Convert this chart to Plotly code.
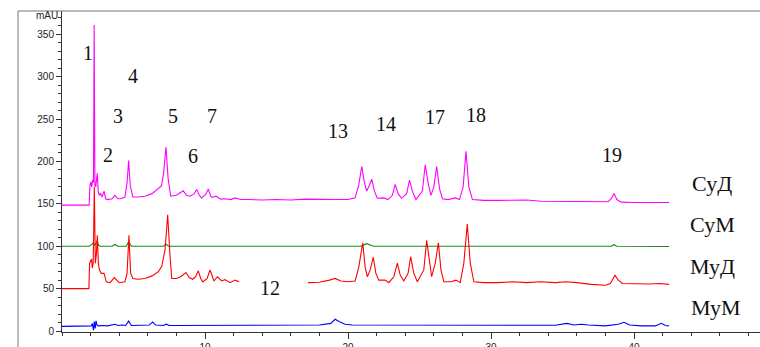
import plotly.graph_objects as go

# ---------------- data ----------------
# СуД (magenta)
sud_t = [0, 1.9, 1.96, 2.02, 2.08, 2.14, 2.2, 2.25, 2.3, 2.36, 2.42, 2.47, 2.53, 2.6, 2.7, 2.8, 2.94, 3.05,
         3.2, 3.5, 3.7, 3.9, 4.1, 4.4, 4.55, 4.66, 4.77, 4.95, 5.3, 5.8, 6.3, 6.7, 6.95, 7.1, 7.27, 7.42,
         7.6, 8.0, 8.3, 8.48, 8.7, 8.95, 9.25, 9.42, 9.6, 9.75, 10.05, 10.23, 10.4, 10.5, 10.77, 11.1, 11.4,
         11.8, 12.1, 12.5, 13, 14, 15, 16, 17, 18, 19, 20, 20.5, 20.75, 20.96, 21.15, 21.3, 21.45, 21.66,
         21.85, 22.05, 22.5, 22.8, 23.1, 23.3, 23.5, 23.75, 24.1, 24.3, 24.5, 24.75, 25.2, 25.4, 25.6, 25.8,
         26.0, 26.2, 26.4, 26.6, 27.0, 27.5, 27.8, 28.05, 28.25, 28.45, 28.7, 29.5, 30.5, 31.5, 32.5, 33.5,
         34.5, 35.5, 36.5, 37.5, 38.2, 38.45, 38.6, 38.8, 39.1, 40, 41, 42.45]
sud_v = [148.5, 148.5, 172, 176, 170, 178, 175, 361, 172, 170, 180, 186, 165, 160, 162, 158, 165, 156,
         155, 156, 160, 156, 156, 158, 175, 201, 172, 158, 158, 159, 162, 167, 171, 185, 217, 180,
         159, 160, 163, 165.5, 160, 159, 162, 167, 160, 157, 161, 167.5, 159, 157.5, 159, 155.5, 156,
         155, 157, 155, 155, 154.5, 155, 154.5, 155.5, 155, 155, 155, 157, 172, 194, 175, 165, 170, 179,
         165, 156.5, 157, 155, 160, 173, 162, 156.5, 162, 178, 165, 155, 165, 196, 175, 160,
         170, 194, 168, 156, 155, 157, 155, 170, 212, 170, 155, 154, 154, 154.5, 154.5, 153,
         153, 152.5, 152.5, 152.5, 152.5, 157, 162.3, 155, 152, 151.5, 151.5, 151.5]

# СуМ (green)
sum_t = [0, 1.9, 2.0, 2.1, 2.19, 2.3, 2.4, 2.47, 2.55, 2.7, 3.5, 3.7, 3.9, 4.5, 4.66, 4.85, 7.1, 7.27,
         7.45, 20.9, 21.3, 21.8, 38.4, 38.6, 38.8, 42.45]
sum_v = [100, 100, 101, 103, 104, 101, 104, 106.5, 101, 100, 100, 102, 100, 100, 105.5, 100, 100, 102.5,
         100, 100, 103, 100, 100, 101.8, 100, 99.7]

# МуД (red), first part
mud_t1 = [0, 1.88, 1.93, 2.0, 2.07, 2.12, 2.18, 2.26, 2.33, 2.4, 2.47, 2.54, 2.62, 2.75, 2.94, 3.1, 3.36,
          3.66, 4.0, 4.4, 4.55, 4.68, 4.8, 4.95, 5.33, 5.8, 6.3, 6.74, 6.97, 7.2, 7.39, 7.55, 7.67, 8.0,
          8.3, 8.67, 8.9, 9.14, 9.35, 9.53, 9.7, 9.84, 10.15, 10.35, 10.5, 10.63, 10.86, 11.17, 11.4,
          11.75, 12.1, 12.38]
mud_v1 = [50, 50, 80, 84, 85, 74, 80, 170, 80, 90, 113, 80, 72, 68, 68, 58, 57,
          63, 57, 58, 68, 113, 68, 62, 61, 62, 65, 70, 76, 95, 137, 90, 62, 62,
          64, 69, 63, 61, 64, 71, 62, 58, 62, 72, 64, 59, 64, 59, 60.6,
          57, 60, 58]
# МуД (red), second part
mud_t2 = [17.2, 18.0, 18.7, 19.1, 19.5, 20.0, 20.5, 20.75, 21.03, 21.2, 21.35, 21.55, 21.77, 21.95, 22.15,
          22.6, 22.85, 23.2, 23.45, 23.65, 23.9, 24.2, 24.38, 24.6, 24.85, 25.3, 25.5, 25.7, 25.85, 26.1,
          26.32, 26.5, 26.7, 27.2, 27.55, 27.85, 28.1, 28.34, 28.55, 28.8, 29.5, 30.5, 31.5, 32.5, 33.5,
          34.5, 35.2, 36, 37, 38, 38.35, 38.67, 38.9, 39.2, 40, 41, 41.8, 42.45]
mud_v2 = [57, 57.5, 60, 62, 59, 58, 59, 75, 104, 75, 64, 72, 87, 68, 60,
          60, 57, 64, 80, 66, 59, 68, 87.6, 68, 58, 72, 107, 80, 64, 80,
          104, 72, 58, 58, 60, 57, 80, 126, 80, 58, 57, 57, 58, 57, 58,
          57, 58, 57, 55, 54, 56, 65.7, 60, 56, 55.5, 55.5, 56, 55]

# МуМ (blue)
mum_t = [0, 1.9, 2.05, 2.12, 2.2, 2.26, 2.32, 2.38, 2.45, 2.55, 2.8, 3.2, 3.5, 3.7, 3.9, 4.2, 4.45, 4.66,
         4.85, 5.5, 6.1, 6.34, 6.55, 7.1, 7.3, 7.5, 8.5, 9.5, 12, 15, 18, 18.8, 19.1, 19.4, 19.8, 20.3,
         21, 23, 26, 29, 32, 34.5, 35.3, 35.8, 36.3, 36.8, 38.0, 38.9, 39.3, 39.7, 40.5, 41.5, 41.9, 42.2,
         42.45]
mum_v = [5.5, 5.5, 6, 9, 1, 11, 3, 12, 7, 6, 6.5, 6, 7, 8, 6.5, 7, 6.5, 11.7,
         6.5, 6.5, 7, 10.6, 7, 6.5, 8, 6.5, 6.5, 6.8, 6.5, 6.5, 7, 9, 13.8, 11, 8, 7,
         7, 6.8, 6.8, 7, 6.8, 6.8, 9, 7, 8, 7, 6, 8, 10.3, 7, 6, 6, 9, 6.5,
         6]

# peak numbers: label, time, mAU
peak_labels = ["1", "2", "3", "4", "5", "6", "7", "12", "13", "14", "17", "18", "19"]
peak_x = [1.82, 3.22, 3.92, 4.97, 7.76, 9.16, 10.49, 14.55, 19.3, 22.66, 26.08, 28.95, 38.46]
peak_y = [327.8, 207.5, 253.5, 300.7, 253.5, 206.4, 253.5, 50.7, 235.8, 244, 252.4, 254.7, 207.5]

# sample names
series_names = ["СуД", "СуМ", "МуД", "МуМ"]
name_x = [45.45, 45.5, 45.5, 45.7]
name_y = [173.6, 125.3, 75.8, 28.3]

x_ticks = [10, 20, 30, 40]
y_ticks = [0, 50, 100, 150, 200, 250, 300, 350]

# ---------------- figure ----------------
fig = go.Figure()
lw = 1.1
fig.add_trace(go.Scatter(x=sum_t, y=sum_v, mode="lines", line=dict(color="#138a13", width=lw)))
fig.add_trace(go.Scatter(x=mum_t, y=mum_v, mode="lines", line=dict(color="#0000ff", width=lw)))
fig.add_trace(go.Scatter(x=mud_t1, y=mud_v1, mode="lines", line=dict(color="#ff0000", width=lw)))
fig.add_trace(go.Scatter(x=mud_t2, y=mud_v2, mode="lines", line=dict(color="#ff0000", width=lw)))
fig.add_trace(go.Scatter(x=sud_t, y=sud_v, mode="lines", line=dict(color="#ff00ff", width=lw)))

serif = "Liberation Serif"
for lab, x, y in zip(peak_labels, peak_x, peak_y):
    fig.add_annotation(x=x, y=y, text=lab, showarrow=False,
                       font=dict(family=serif, size=20, color="#111"))
for lab, x, y in zip(series_names, name_x, name_y):
    fig.add_annotation(x=x, y=y, text=lab, showarrow=False,
                       font=dict(family=serif, size=22, color="#111"))

tickfont = dict(family="Liberation Sans Narrow, Arial Narrow, Liberation Sans, sans-serif",
                size=10, color="#222")
fig.add_annotation(xref="paper", x=0, y=372.6, text="mAU", showarrow=False,
                   xanchor="right", xshift=-2, font=tickfont)

fig.update_xaxes(range=[0, 48.81], tickvals=x_ticks, ticks="outside", ticklen=6, tickcolor="#333",
                 showline=True, linecolor="#333", linewidth=1, showgrid=False, zeroline=False,
                 tickfont=tickfont, automargin=False,
                 minor=dict(dtick=2, tick0=0, ticks="outside", ticklen=3, tickcolor="#333"))
fig.update_yaxes(range=[-1.18, 377.4], tickvals=y_ticks, ticks="outside", ticklen=5, tickcolor="#333",
                 showline=True, linecolor="#333", linewidth=1, showgrid=False, zeroline=False,
                 tickfont=tickfont, automargin=False,
                 minor=dict(dtick=10, tick0=0, ticks="outside", ticklen=3, tickcolor="#333"))

# outer frame (left and top)
fig.add_shape(type="line", xref="paper", yref="paper", x0=-0.063, x1=-0.063, y0=1, y1=-0.05,
              line=dict(color="#777", width=1))
fig.add_shape(type="line", xref="paper", yref="paper", x0=-0.063, x1=1.0, y0=1, y1=1,
              line=dict(color="#777", width=1))

fig.update_layout(width=760, height=347, margin=dict(l=62, r=0, t=11, b=15),
                  paper_bgcolor="white", plot_bgcolor="white", showlegend=False)

fig.write_html("out.html")
